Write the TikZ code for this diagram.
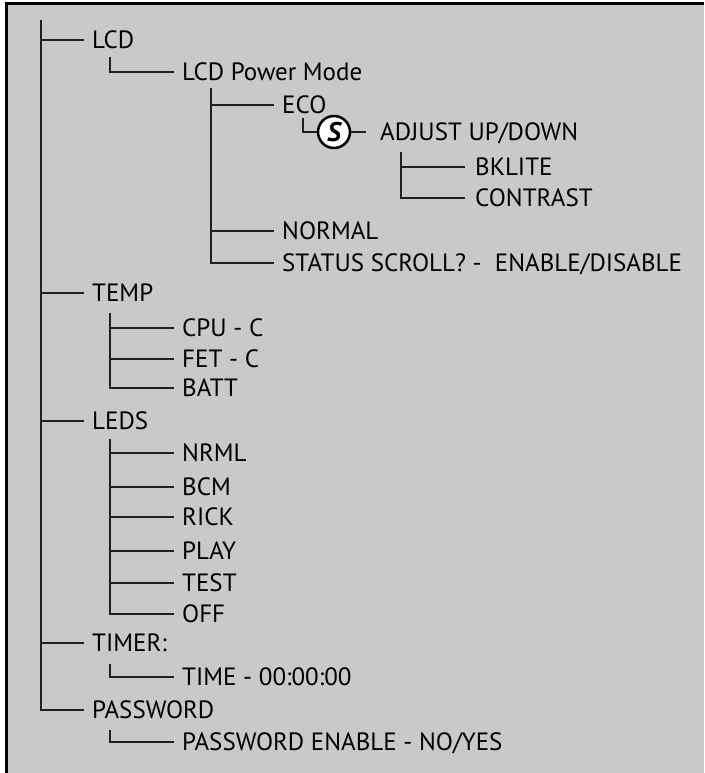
\documentclass[tikz,border=0pt]{standalone}
\usepackage{fontspec}
\setmainfont{PT Sans}
\usetikzlibrary{positioning}
\definecolor{panelgray}{RGB}{202,200,201}
\definecolor{linegray}{RGB}{35,31,32}

\begin{document}
\begin{tikzpicture}[x=1pt, y=-1pt,
    item/.style={anchor=west, inner xsep=8pt, inner ysep=0pt, text height=17.5pt, text depth=0pt, font=\fontsize{25}{28}\selectfont},
    br/.style={line width=2.5pt, draw=linegray},
    sbadge/.style={circle, draw=black, fill=white, line width=2.5pt, minimum size=32pt, inner sep=0pt, font=\fontsize{27}{28}\selectfont\bfseries\itshape}
]
    \useasboundingbox (0,0) rectangle (704,773);
    \fill[panelgray] (6.5,3.5) rectangle (704,773);
    \draw[line width=2.5pt] (6.5,773) -- (6.5,3.5) -- (704,3.5);

    % top level
    \coordinate (root) at (41,20);
    \node[item] (lcd)   at (84,40)  {LCD};
    \node[item] (temp)  at (84,293) {TEMP};
    \node[item] (leds)  at (84,421) {LEDS};
    \node[item] (timer) at (84,643) {TIMER:};
    \node[item] (pass)  at (84,710) {PASSWORD};
    \draw[br] (root) |- (lcd.west);
    \draw[br] (root) |- (temp.west);
    \draw[br] (root) |- (leds.west);
    \draw[br] (root) |- (timer.west);
    \draw[br] (root) |- (pass.west);

    % LCD
    \coordinate (lcdsub) at (110,57);
    \node[item] (pmode) at (174,72) {LCD Power Mode};
    \draw[br] (lcdsub) |- (pmode.west);
    \coordinate (pmsub) at (211,88);
    \node[item] (eco)    at (274,105) {ECO};
    \node[item] (normal) at (274,231) {NORMAL};
    \node[item] (scroll) at (274,263) {STATUS SCROLL? -\ \ ENABLE/DISABLE};
    \draw[br] (pmsub) |- (eco.west);
    \draw[br] (pmsub) |- (normal.west);
    \draw[br] (pmsub) |- (scroll.west);
    \coordinate (ecosub) at (303,118);
    \node[sbadge] (setkey) at (334,132) {S};
    \node[item, inner xsep=14pt] (adjust) at (366,132) {ADJUST UP/DOWN};
    \draw[br] (ecosub) |- (setkey.west);
    \draw[br] (setkey.east) -- (adjust.west);
    \coordinate (adjsub) at (401,152);
    \node[item, inner xsep=10pt] (bklite)   at (465,167) {BKLITE};
    \node[item, inner xsep=10pt] (contrast) at (465,198) {CONTRAST};
    \draw[br] (adjsub) |- (bklite.west);
    \draw[br] (adjsub) |- (contrast.west);

    % TEMP
    \coordinate (tempsub) at (110,313);
    \node[item] (cpu)  at (174,328) {CPU - C};
    \node[item] (fet)  at (174,359) {FET - C};
    \node[item] (batt) at (174,388) {BATT};
    \draw[br] (tempsub) |- (cpu.west);
    \draw[br] (tempsub) |- (fet.west);
    \draw[br] (tempsub) |- (batt.west);

    % LEDS
    \coordinate (ledsub) at (110,439);
    \node[item] (nrml) at (174,453) {NRML};
    \node[item] (bcm)  at (174,487) {BCM};
    \node[item] (rick) at (174,517) {RICK};
    \node[item] (play) at (174,551) {PLAY};
    \node[item] (test) at (174,583) {TEST};
    \node[item] (off)  at (174,614) {OFF};
    \foreach \n in {nrml,bcm,rick,play,test,off}
        \draw[br] (ledsub) |- (\n.west);

    % TIMER / PASSWORD
    \coordinate (timsub) at (110,664);
    \node[item] (time) at (174,677) {TIME - 00:00:00};
    \draw[br] (timsub) |- (time.west);
    \coordinate (passsub) at (110,730);
    \node[item] (passen) at (174,742) {PASSWORD ENABLE - NO/YES};
    \draw[br] (passsub) |- (passen.west);
\end{tikzpicture}
\end{document}
